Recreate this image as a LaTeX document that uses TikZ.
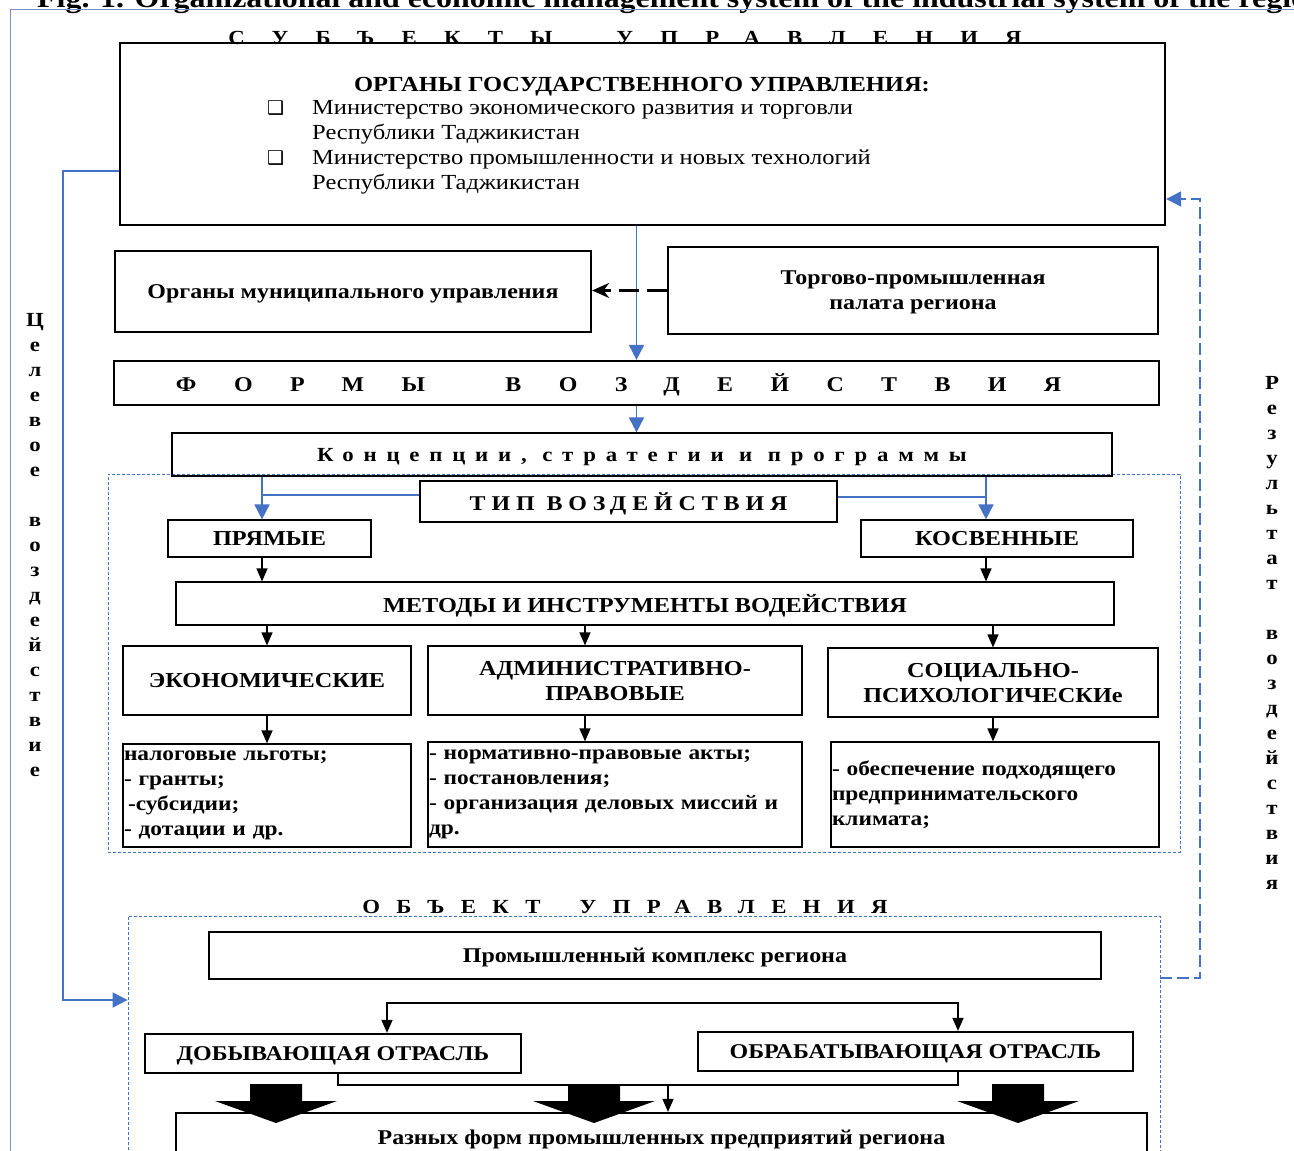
\documentclass[tikz,border=0pt]{standalone}
\usepackage{fontspec}
\setmainfont[FakeStretch=1.14]{Liberation Serif}
\newfontfamily\symfont{DejaVu Sans}
\usetikzlibrary{arrows.meta}
\definecolor{lineblue}{RGB}{68,114,196}
\definecolor{framegray}{RGB}{120,145,190}
\newcommand\bul{\makebox[45pt][l]{\symfont\fontsize{19}{19}\selectfont ❑}}
\tikzset{>={Triangle[length=13pt,width=11pt]}}
\tikzset{
  thickbox/.style={draw, line width=2.2pt, inner sep=0pt, align=center, text depth=0pt, font=\bfseries\fontsize{21}{25}\selectfont},
  thinbox/.style={draw, line width=1.2pt, inner sep=0pt, align=center, text depth=0pt, font=\bfseries\fontsize{21.3}{25}\selectfont},
  listbox/.style={draw, line width=1.2pt, inner sep=1pt, align=left, font=\bfseries\fontsize{20.5}{25}\selectfont},
  dasharea/.style={draw=lineblue, line width=0.8pt, dash pattern=on 3pt off 2pt, inner sep=0pt},
  bluearrow/.style={draw=lineblue, line width=1.8pt, -{Triangle[length=15pt,width=15pt]}},
  blueline/.style={draw=lineblue, line width=1.8pt},
  blkarrow/.style={draw, line width=1.4pt, ->},
  vtext/.style={align=center, inner sep=0pt, font=\bfseries\fontsize{20}{25}\selectfont}
}
\begin{document}
\begin{tikzpicture}[x=1pt,y=-1pt]
\path[use as bounding box] (0,0) rectangle (1294,1151);
\clip (0,0) rectangle (1294,1151);

\node[anchor=base west, inner sep=0pt, font=\bfseries\fontsize{28}{30}\selectfont] (title) at (37,7)
  {Fig. 1. Organizational and economic management system of the industrial system of the region};
\draw[framegray, line width=1pt] (1294,9) -| (10,1151);

\node[dasharea, minimum width=1072pt, minimum height=378pt] (typearea) at (644,663) {};
\node[dasharea, minimum width=1032pt, minimum height=250pt] (objarea) at (644,1041) {};

\node[anchor=base, inner sep=0pt, font=\bfseries\fontsize{20}{25}\selectfont\addfontfeature{LetterSpace=136}] (subj) at (625,44) {СУБЪЕКТЫ\hspace*{31pt} УПРАВЛЕНИЯ};
\node[thickbox, minimum width=1045pt, minimum height=182pt] (gov) at (642.5,134) {};
\node[anchor=base, inner sep=0pt, font=\bfseries\fontsize{21.5}{25}\selectfont] (govhead) at (642,91) {ОРГАНЫ ГОСУДАРСТВЕННОГО УПРАВЛЕНИЯ:};
\node[anchor=north west, align=left, inner sep=0pt, font=\fontsize{21.5}{25}\selectfont] (govlist) at (267,100)
  {\bul Министерство экономического развития и торговли\\
   \hspace*{45pt}Республики Таджикистан\\
   \bul Министерство промышленности и новых технологий\\
   \hspace*{45pt}Республики Таджикистан};

\node[thickbox, minimum width=476pt, minimum height=81pt] (muni) at (353,291.5) {Органы муниципального управления};
\node[thickbox, minimum width=490pt, minimum height=87pt] (trade) at (913,290.5) {Торгово-промышленная\\палата региона};
\node[thickbox, minimum width=1045pt, minimum height=44pt, font=\bfseries\fontsize{21}{25}\selectfont\addfontfeature{LetterSpace=178}] (formy) at (636.5,383) {ФОРМЫ\hspace*{37pt} ВОЗДЕЙСТВИЯ\hspace*{36pt}};
\node[thinbox, minimum width=940pt, minimum height=43pt, font=\bfseries\fontsize{20}{25}\selectfont\addfontfeature{LetterSpace=49}] (konc) at (642,454.5) {Концепции, стратегии и программы};
\node[thinbox, minimum width=417pt, minimum height=41pt, font=\bfseries\fontsize{21}{25}\selectfont\addfontfeature{LetterSpace=28}] (tip) at (628.5,501.5) {ТИП ВОЗДЕЙСТВИЯ};
\node[thinbox, minimum width=203pt, minimum height=37pt] (pryam) at (269.5,538.5) {ПРЯМЫЕ};
\node[thinbox, minimum width=272pt, minimum height=37pt] (kosv) at (997,538.5) {КОСВЕННЫЕ};
\node[thinbox, minimum width=938pt, minimum height=43pt] (metody) at (645,603.5) {МЕТОДЫ И ИНСТРУМЕНТЫ ВОДЕЙСТВИЯ};
\node[thinbox, minimum width=288pt, minimum height=69pt] (eco) at (267,680.5) {ЭКОНОМИЧЕСКИЕ};
\node[thinbox, minimum width=374pt, minimum height=69pt] (adm) at (615,680.5) {АДМИНИСТРАТИВНО-\\ПРАВОВЫЕ};
\node[thinbox, minimum width=330pt, minimum height=69pt] (soc) at (993,682.5) {СОЦИАЛЬНО-\\ПСИХОЛОГИЧЕСКИе};
\node[listbox, text width=286pt, minimum height=103pt] (ecolist) at (267,795.5)
  {налоговые льготы;\\- гранты;\\\hspace*{4pt}-субсидии;\\- дотации и др.};
\node[listbox, text width=372pt, minimum height=105pt] (admlist) at (615,794.5)
  {- нормативно-правовые акты;\\- постановления;\\- организация деловых миссий и\\др.};
\node[listbox, text width=326pt, minimum height=105pt] (soclist) at (995,794.5)
  {- обеспечение подходящего\\предпринимательского\\климата;};

\node[anchor=base, inner sep=0pt, font=\bfseries\fontsize{20}{25}\selectfont\addfontfeature{LetterSpace=82}] (obj) at (625,913) {ОБЪЕКТ\hspace*{17pt} УПРАВЛЕНИЯ};
\node[thickbox, minimum width=892pt, minimum height=47pt] (prom) at (655,955.5) {Промышленный комплекс региона};
\node[thickbox, minimum width=376pt, minimum height=39pt] (dob) at (333,1053.5) {ДОБЫВАЮЩАЯ ОТРАСЛЬ};
\node[thickbox, minimum width=435pt, minimum height=39pt] (obr) at (915.5,1051.5) {ОБРАБАТЫВАЮЩАЯ ОТРАСЛЬ};
\node[thickbox, minimum width=971pt, minimum height=48pt] (razn) at (661.5,1137) {Разных форм промышленных предприятий региона};

\node[vtext] (goaltxt) at (35,545)
  {Ц\\е\\л\\е\\в\\о\\е\\\strut\\в\\о\\з\\д\\е\\й\\с\\т\\в\\и\\е};
\node[vtext] (restxt) at (1272,633)
  {Р\\е\\з\\у\\л\\ь\\т\\а\\т\\\strut\\в\\о\\з\\д\\е\\й\\с\\т\\в\\и\\я};

\coordinate (goalT) at (63,171);
\coordinate (goalB) at (63,1000);
\draw[bluearrow] (gov.west |- goalT) -- (goalT) -- (goalB) -- (goalB -| objarea.west);
\coordinate (resB) at (1200,978);
\coordinate (resT) at (1200,199);
\draw[bluearrow, dash pattern=on 12pt off 5pt] (objarea.east |- resB) -- (resB) -- (resT) -- (gov.east |- resT);

\draw[bluearrow] (formy.north |- gov.south) -- (formy.north);
\draw[line width=2.6pt, dash pattern=on 20pt off 8pt, -{Stealth[length=17pt,width=15pt]}] (trade.west) -- (trade.west -| muni.east);
\draw[bluearrow] (formy.south) -- (formy.south |- konc.north);

\coordinate (lx) at (262,495);
\coordinate (rx) at (986,497);
\draw[bluearrow] (konc.south -| lx) -- (pryam.north -| lx);
\draw[blueline] (tip.west |- lx) -- (lx);
\draw[bluearrow] (konc.south -| rx) -- (kosv.north -| rx);
\draw[blueline] (tip.east |- rx) -- (rx);

\draw[blkarrow] (pryam.south -| lx) -- (metody.north -| lx);
\draw[blkarrow] (kosv.south -| rx) -- (metody.north -| rx);
\coordinate (mx) at (585,0);
\draw[blkarrow] (metody.south -| eco.north) -- (eco.north);
\draw[blkarrow] (metody.south -| mx) -- (adm.north -| mx);
\draw[blkarrow] (metody.south -| soc.north) -- (soc.north);
\draw[blkarrow] (eco.south) -- (ecolist.north);
\draw[blkarrow] (adm.south -| mx) -- (admlist.north -| mx);
\draw[blkarrow] (soc.south) -- (soc.south |- soclist.north);

\coordinate (brL) at (387,1003);
\coordinate (brR) at (958,1003);
\draw[line width=1.4pt, <->] (dob.north -| brL) -- (brL) -- (brR) -- (obr.north -| brR);
\coordinate (mgL) at (338,1085);
\coordinate (mgR) at (958,1085);
\coordinate (mgM) at (668,1085);
\draw[line width=1.4pt] (dob.south -| mgL) -- (mgL) -- (mgR) -- (obr.south -| mgR);
\draw[blkarrow] (mgM) -- (razn.north -| mgM);

\foreach \bx in {276,594,1018}
  \fill ({\bx-26},1084) -- ({\bx+26},1084) -- ({\bx+26},1101) -- ({\bx+61},1101)
        -- (\bx,1123) -- ({\bx-61},1101) -- ({\bx-26},1101) -- cycle;
\end{tikzpicture}
\end{document}
